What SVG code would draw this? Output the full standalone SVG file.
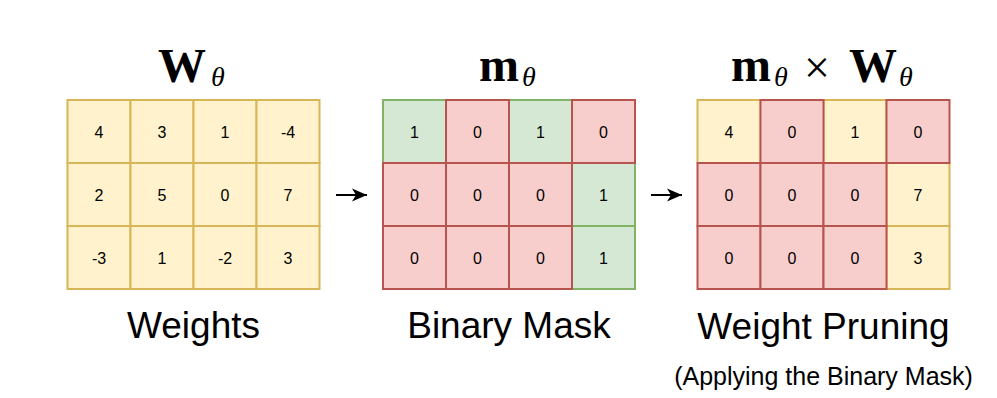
<svg xmlns="http://www.w3.org/2000/svg" width="997" height="398" viewBox="0 0 997 398">
<style>
.y{fill:#fff2cc;stroke:#d6b656;stroke-width:2}
.r{fill:#f8cecc;stroke:#b85450;stroke-width:2}
.g{fill:#d5e8d4;stroke:#82b366;stroke-width:2}
.n{font-family:"Liberation Sans",Arial,sans-serif;font-size:16px;fill:#000;text-anchor:middle}
.lbl{font-family:"Liberation Sans",Arial,sans-serif;font-size:37px;fill:#000;text-anchor:middle}
.sub{font-family:"Liberation Sans",Arial,sans-serif;font-size:25px;fill:#000;text-anchor:middle}
.mb{font-family:"Liberation Serif","Times New Roman",serif;font-weight:bold;font-size:48px;fill:#000}
.th{font-family:"Liberation Serif","Times New Roman",serif;font-style:italic;font-size:28px;fill:#000}
.op{font-family:"Liberation Serif","Times New Roman",serif;font-size:46px;fill:#000}
.conn{stroke:#000;stroke-width:2;fill:none}
</style>
<defs>
<marker id="ah" markerUnits="userSpaceOnUse" markerWidth="18" markerHeight="16" refX="15" refY="8" orient="auto">
<path d="M0,1.5 L15,8 L0,14.5 L4,8 Z" fill="#000"/>
</marker>
</defs>
<rect width="997" height="398" fill="#fff"/>

<g id="weights">
<text class="mb" x="158" y="82">W</text><text class="th" x="211" y="86">θ</text>
<rect class="y" x="67.5" y="100" width="63" height="63"/>
<rect class="y" x="130.5" y="100" width="63" height="63"/>
<rect class="y" x="193.5" y="100" width="63" height="63"/>
<rect class="y" x="256.5" y="100" width="63" height="63"/>
<rect class="y" x="67.5" y="163" width="63" height="63"/>
<rect class="y" x="130.5" y="163" width="63" height="63"/>
<rect class="y" x="193.5" y="163" width="63" height="63"/>
<rect class="y" x="256.5" y="163" width="63" height="63"/>
<rect class="y" x="67.5" y="226" width="63" height="63"/>
<rect class="y" x="130.5" y="226" width="63" height="63"/>
<rect class="y" x="193.5" y="226" width="63" height="63"/>
<rect class="y" x="256.5" y="226" width="63" height="63"/>
<text class="n" x="99" y="137.5">4</text><text class="n" x="162" y="137.5">3</text><text class="n" x="225" y="137.5">1</text><text class="n" x="288" y="137.5">-4</text>
<text class="n" x="99" y="200.5">2</text><text class="n" x="162" y="200.5">5</text><text class="n" x="225" y="200.5">0</text><text class="n" x="288" y="200.5">7</text>
<text class="n" x="99" y="263.5">-3</text><text class="n" x="162" y="263.5">1</text><text class="n" x="225" y="263.5">-2</text><text class="n" x="288" y="263.5">3</text>
<text class="lbl" x="193.5" y="338">Weights</text>
</g>

<g id="mask">
<text class="mb" x="479" y="81">m</text><text class="th" x="522" y="86">θ</text>
<rect class="g" x="383" y="100" width="63" height="63"/>
<rect class="g" x="509" y="100" width="63" height="63"/>
<rect class="g" x="572" y="163" width="63" height="63"/>
<rect class="g" x="572" y="226" width="63" height="63"/>
<rect class="r" x="446" y="100" width="63" height="63"/>
<rect class="r" x="572" y="100" width="63" height="63"/>
<rect class="r" x="383" y="163" width="63" height="63"/>
<rect class="r" x="446" y="163" width="63" height="63"/>
<rect class="r" x="509" y="163" width="63" height="63"/>
<rect class="r" x="383" y="226" width="63" height="63"/>
<rect class="r" x="446" y="226" width="63" height="63"/>
<rect class="r" x="509" y="226" width="63" height="63"/>
<text class="n" x="414.5" y="137.5">1</text><text class="n" x="477.5" y="137.5">0</text><text class="n" x="540.5" y="137.5">1</text><text class="n" x="603.5" y="137.5">0</text>
<text class="n" x="414.5" y="200.5">0</text><text class="n" x="477.5" y="200.5">0</text><text class="n" x="540.5" y="200.5">0</text><text class="n" x="603.5" y="200.5">1</text>
<text class="n" x="414.5" y="263.5">0</text><text class="n" x="477.5" y="263.5">0</text><text class="n" x="540.5" y="263.5">0</text><text class="n" x="603.5" y="263.5">1</text>
<text class="lbl" x="509" y="338">Binary Mask</text>
</g>

<g id="pruning">
<text class="mb" x="731" y="81">m</text><text class="th" x="774" y="86">θ</text>
<text class="op" x="804" y="83">×</text>
<text class="mb" x="849" y="82">W</text><text class="th" x="899" y="86">θ</text>
<rect class="y" x="697.5" y="100" width="63" height="63"/>
<rect class="y" x="823.5" y="100" width="63" height="63"/>
<rect class="y" x="886.5" y="163" width="63" height="63"/>
<rect class="y" x="886.5" y="226" width="63" height="63"/>
<rect class="r" x="760.5" y="100" width="63" height="63"/>
<rect class="r" x="886.5" y="100" width="63" height="63"/>
<rect class="r" x="697.5" y="163" width="63" height="63"/>
<rect class="r" x="760.5" y="163" width="63" height="63"/>
<rect class="r" x="823.5" y="163" width="63" height="63"/>
<rect class="r" x="697.5" y="226" width="63" height="63"/>
<rect class="r" x="760.5" y="226" width="63" height="63"/>
<rect class="r" x="823.5" y="226" width="63" height="63"/>
<text class="n" x="729" y="137.5">4</text><text class="n" x="792" y="137.5">0</text><text class="n" x="855" y="137.5">1</text><text class="n" x="918" y="137.5">0</text>
<text class="n" x="729" y="200.5">0</text><text class="n" x="792" y="200.5">0</text><text class="n" x="855" y="200.5">0</text><text class="n" x="918" y="200.5">7</text>
<text class="n" x="729" y="263.5">0</text><text class="n" x="792" y="263.5">0</text><text class="n" x="855" y="263.5">0</text><text class="n" x="918" y="263.5">3</text>
<text class="lbl" x="823.5" y="339">Weight Pruning</text>
<text class="sub" x="823.5" y="385">(Applying the Binary Mask)</text>
</g>

<g id="connectors">
<line class="conn" x1="336" y1="195" x2="367" y2="195" marker-end="url(#ah)"/>
<line class="conn" x1="651" y1="195" x2="682" y2="195" marker-end="url(#ah)"/>
</g>
</svg>
